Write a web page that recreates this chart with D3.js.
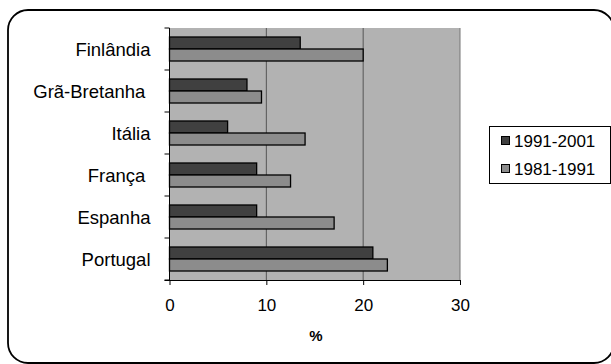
<!DOCTYPE html>
<html><head><meta charset="utf-8">
<script src="https://cdn.jsdelivr.net/npm/d3@7"></script>
<style>
body{margin:0;background:#fff;}
svg{display:block;font-family:"Liberation Sans",Arial,sans-serif;}
text{white-space:pre;}
</style></head>
<body>
<script>
const categories = ["Finlândia","Grã-Bretanha ","Itália","França ","Espanha","Portugal"];
const seriesNames = ["1991-2001","1981-1991"];
const values9101 = [13.5, 8, 6, 9, 9, 21];
const values8191 = [20, 9.5, 14, 12.5, 17, 22.5];
const xTicks = [0,10,20,30];
const seriesColors = ["#404040","#8c8c8c"];

const W=611,H=364;
const svg=d3.select("body").append("svg").attr("width",W).attr("height",H);

svg.append("rect").attr("x",8).attr("y",10).attr("width",606).attr("height",353)
  .attr("rx",20).attr("fill","#fff").attr("stroke","#000").attr("stroke-width",1.8);

const L=169.5,R=460,T=28,B=280;
const x=d3.scaleLinear().domain([0,30]).range([L,R]);
const y=d3.scaleBand().domain(categories).range([T,B]);
const inner=d3.scaleBand().domain(seriesNames).range([9,33]);

svg.append("rect").attr("x",L).attr("y",T).attr("width",R-L).attr("height",B-T).attr("fill","#b2b2b2");
svg.append("line").attr("x1",R).attr("x2",R).attr("y1",T).attr("y2",B).attr("stroke","#777");
// gridlines
svg.append("g").selectAll("line").data(xTicks.slice(1,-1)).join("line")
  .attr("x1",d=>x(d)).attr("x2",d=>x(d)).attr("y1",T).attr("y2",B)
  .attr("stroke","#555").attr("stroke-width",1);

const data=categories.map((c,i)=>({c,vals:[values9101[i],values8191[i]]}));
const g=svg.append("g");
data.forEach(d=>{
  d.vals.forEach((v,j)=>{
    g.append("rect").attr("x",x(0)).attr("y",y(d.c)+inner(seriesNames[j]))
     .attr("width",x(v)-x(0)).attr("height",inner.bandwidth())
     .attr("fill",seriesColors[j]).attr("stroke","#000").attr("stroke-width",1.3);
  });
});

// x axis
const xa=svg.append("g").attr("transform",`translate(0,${B})`)
  .call(d3.axisBottom(x).tickValues(xTicks).tickSize(5).tickPadding(14));
xa.select(".domain").attr("d",`M${L-5},0.5H${R}`).attr("stroke","#000");
xa.selectAll(".tick line").attr("stroke","#000");
xa.selectAll("text").attr("font-size",17).attr("fill","#000").attr("font-family","Liberation Sans, Arial, sans-serif");

// y axis
const ya=svg.append("g").attr("transform",`translate(${L},0)`);
ya.append("line").attr("x1",0).attr("x2",0).attr("y1",T).attr("y2",B).attr("stroke","#000");
const bounds=categories.map(c=>y(c)).concat([B]);
ya.selectAll("line.tk").data(bounds).join("line").attr("class","tk")
  .attr("x1",-5).attr("x2",0).attr("y1",d=>d).attr("y2",d=>d).attr("stroke","#000");
ya.selectAll("text").data(categories).join("text")
  .attr("x",-19).attr("y",d=>y(d)+y.bandwidth()/2+1).attr("dy","0.35em")
  .attr("text-anchor","end").attr("font-size",18.5).attr("fill","#000").text(d=>d);

svg.append("text").attr("x",316).attr("y",336).attr("dy","0.35em").attr("text-anchor","middle")
  .attr("font-size",15).attr("font-weight","bold").attr("fill","#000").text("%");

// legend
const lg=svg.append("g");
lg.append("rect").attr("x",489.5).attr("y",126.5).attr("width",121).attr("height",57)
  .attr("fill","#fff").attr("stroke","#000").attr("stroke-width",1);
seriesNames.forEach((s,i)=>{
  const yy=141+i*28;
  lg.append("rect").attr("x",501.5).attr("y",yy-4.5).attr("width",8).attr("height",8)
    .attr("fill",seriesColors[i]).attr("stroke","#000").attr("stroke-width",1);
  lg.append("text").attr("x",514).attr("y",yy).attr("dy","0.35em").attr("font-size",17)
    .attr("fill","#000").text(s);
});
</script>
</body></html>
